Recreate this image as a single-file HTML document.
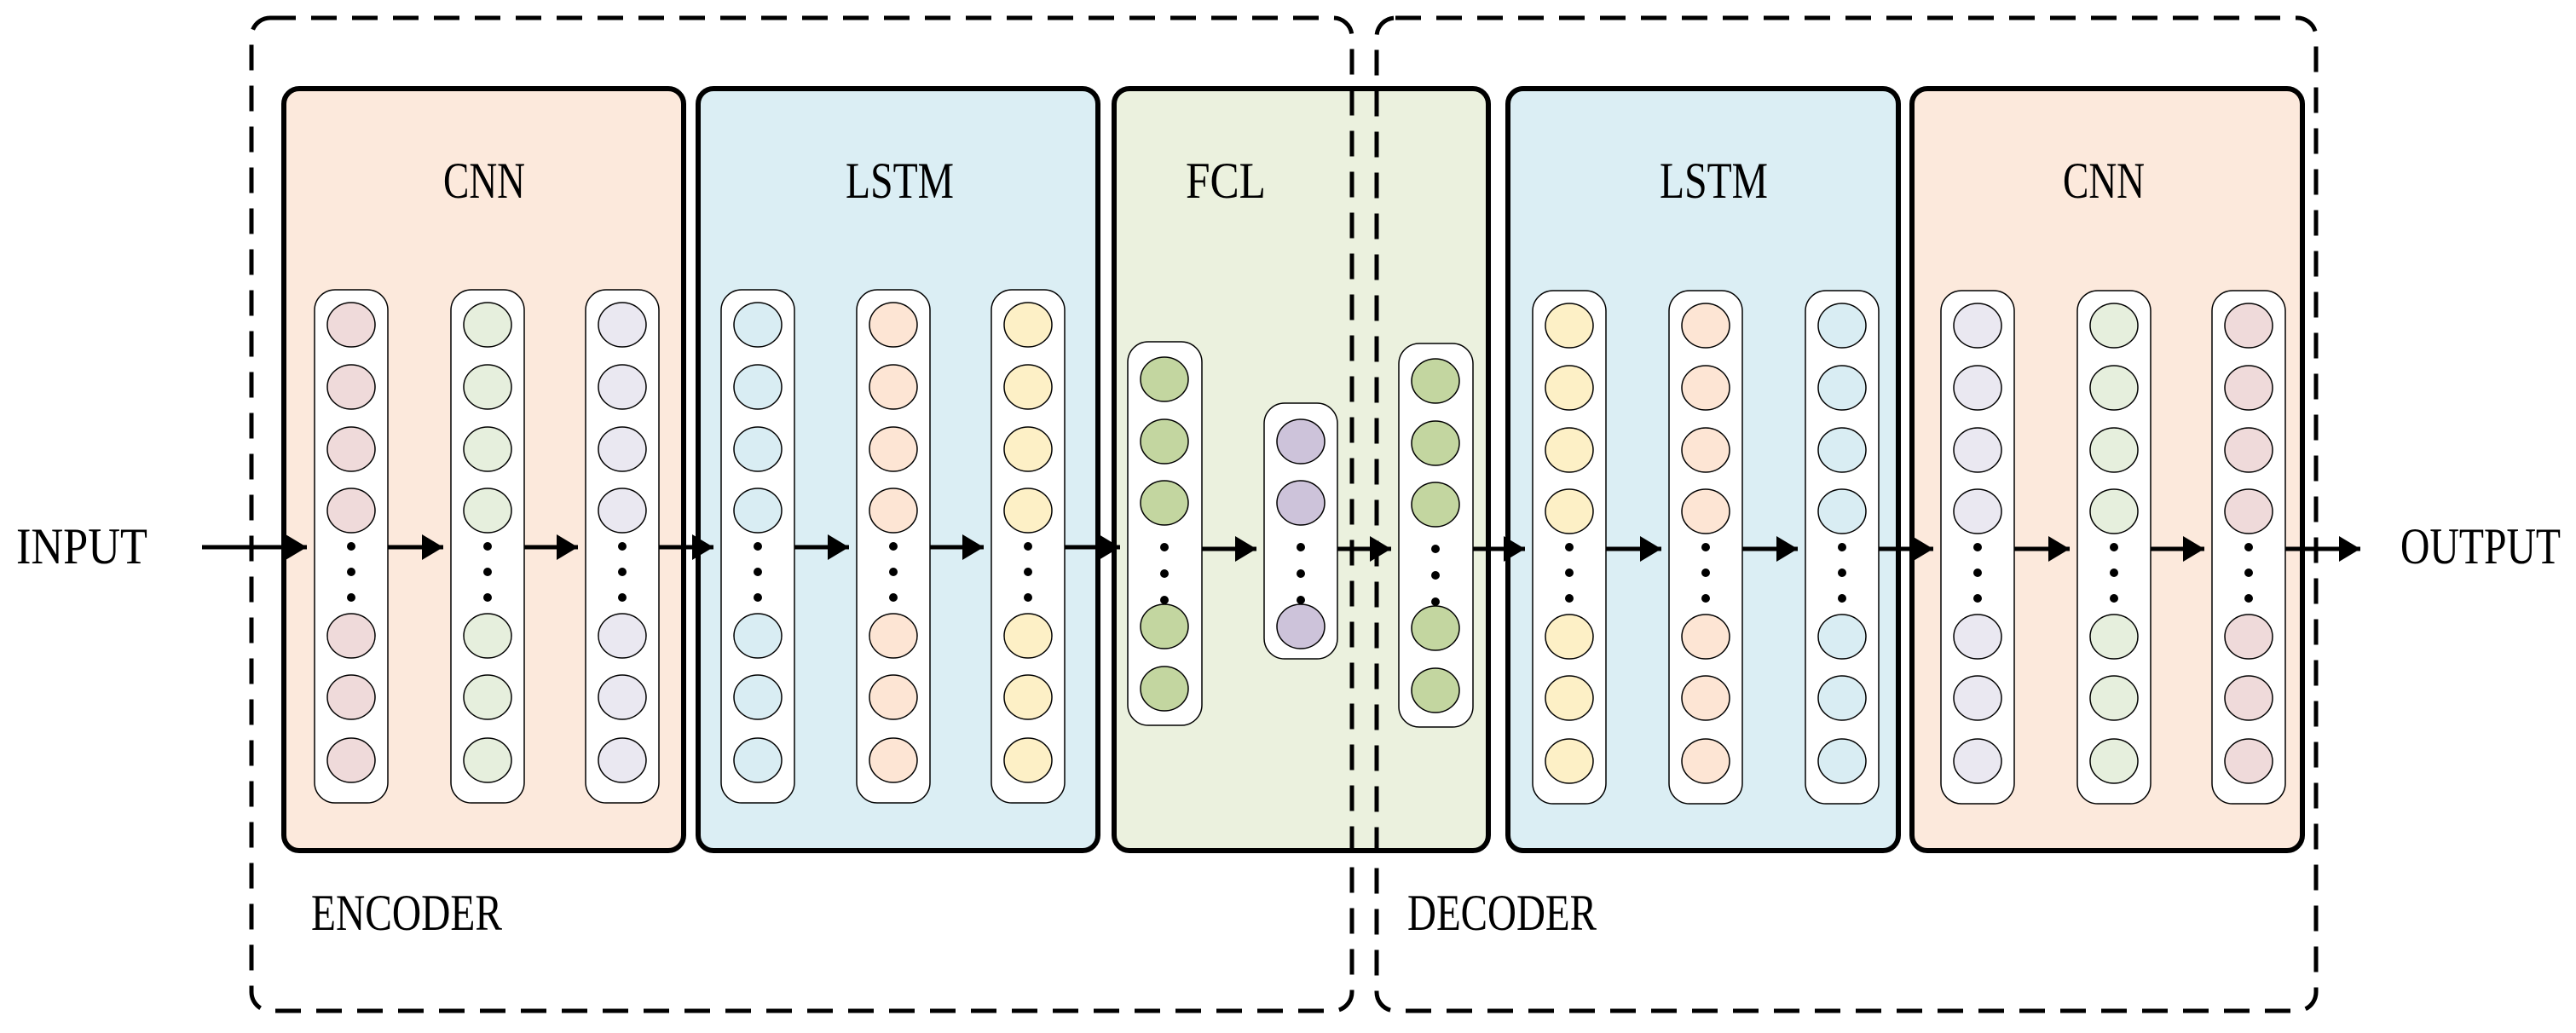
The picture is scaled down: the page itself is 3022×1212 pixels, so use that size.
<!DOCTYPE html>
<html><head><meta charset="utf-8"><style>
html,body{margin:0;padding:0;background:#fff;}
svg{display:block;}
text{font-family:"Liberation Serif","Noto Serif CJK SC",serif;font-size:60px;fill:#000;}
</style></head><body>
<svg width="3022" height="1212" viewBox="0 0 3022 1212" xmlns="http://www.w3.org/2000/svg">
<defs>
<g id="col8">
<rect x="0" y="0" width="86" height="602" rx="24" fill="#fff" stroke="#000" stroke-width="1.5"/>
<g stroke="#000" stroke-width="1.5">
<ellipse cx="43" cy="41" rx="28" ry="26"/><ellipse cx="43" cy="114" rx="28" ry="26"/>
<ellipse cx="43" cy="187" rx="28" ry="26"/><ellipse cx="43" cy="259" rx="28" ry="26"/>
<ellipse cx="43" cy="406" rx="28" ry="26"/><ellipse cx="43" cy="478" rx="28" ry="26"/>
<ellipse cx="43" cy="552" rx="28" ry="26"/></g>
<g fill="#000"><circle cx="43" cy="301" r="5"/><circle cx="43" cy="331" r="5"/><circle cx="43" cy="361" r="5"/></g>
</g>
<g id="colF">
<rect x="0" y="0" width="87" height="450" rx="24" fill="#fff" stroke="#000" stroke-width="1.5"/>
<g stroke="#000" stroke-width="1.5">
<ellipse cx="43" cy="44" rx="28" ry="26"/><ellipse cx="43" cy="117" rx="28" ry="26"/>
<ellipse cx="43" cy="189" rx="28" ry="26"/><ellipse cx="43" cy="334" rx="28" ry="26"/>
<ellipse cx="43" cy="407" rx="28" ry="26"/></g>
<g fill="#000"><circle cx="43" cy="241" r="5"/><circle cx="43" cy="272" r="5"/><circle cx="43" cy="303" r="5"/></g>
</g>
<g id="colP">
<rect x="0" y="0" width="86" height="300" rx="24" fill="#fff" stroke="#000" stroke-width="1.5"/>
<g stroke="#000" stroke-width="1.5">
<ellipse cx="43" cy="45" rx="28" ry="26"/><ellipse cx="43" cy="117" rx="28" ry="26"/>
<ellipse cx="43" cy="262" rx="28" ry="26"/></g>
<g fill="#000"><circle cx="43" cy="169" r="5"/><circle cx="43" cy="200" r="5"/><circle cx="43" cy="231" r="5"/></g>
</g>
<marker id="ah" markerWidth="6" markerHeight="6" refX="5" refY="3" orient="auto" markerUnits="strokeWidth">
<path d="M0,0 L5,3 L0,6 z" fill="#000"/></marker>
</defs>

<!-- boxes -->
<g stroke="#000" stroke-width="6">
<rect x="333" y="104" width="469" height="894" rx="18" fill="#fce9dc"/>
<rect x="819" y="104" width="469" height="894" rx="18" fill="#dbeef4"/>
<rect x="1307" y="104" width="439" height="894" rx="18" fill="#ebf1de"/>
<rect x="1769" y="104" width="458" height="894" rx="18" fill="#dbeef4"/>
<rect x="2243" y="104" width="458" height="894" rx="18" fill="#fce9dc"/>
</g>

<!-- dashed groups -->
<g fill="none" stroke="#000" stroke-width="5" stroke-dasharray="30 18">
<rect x="295" y="21" width="1291" height="1165" rx="22"/>
<rect x="1615" y="21" width="1102" height="1165" rx="22"/>
</g>

<!-- columns -->
<use href="#col8" x="369" y="340" fill="#efdada"/>
<use href="#col8" x="529" y="340" fill="#e6efdd"/>
<use href="#col8" x="687" y="340" fill="#eae8f1"/>
<use href="#col8" x="846" y="340" fill="#d9edf3"/>
<use href="#col8" x="1005" y="340" fill="#fde5d4"/>
<use href="#col8" x="1163" y="340" fill="#fdf0c6"/>
<use href="#colF" x="1323" y="401" fill="#c3d6a0"/>
<use href="#colP" x="1483" y="473" fill="#cdc3da"/>
<use href="#colF" x="1641" y="403" fill="#c3d6a0"/>
<use href="#col8" x="1798" y="341" fill="#fdf0c6"/>
<use href="#col8" x="1958" y="341" fill="#fde5d4"/>
<use href="#col8" x="2118" y="341" fill="#d9edf3"/>
<use href="#col8" x="2277" y="341" fill="#eae8f1"/>
<use href="#col8" x="2437" y="341" fill="#e6efdd"/>
<use href="#col8" x="2595" y="341" fill="#efdada"/>

<!-- arrows -->
<g stroke="#000" stroke-width="5" marker-end="url(#ah)">
<line x1="237" y1="642" x2="360" y2="642"/>
<line x1="455" y1="642" x2="520" y2="642"/>
<line x1="615" y1="642" x2="678" y2="642"/>
<line x1="773" y1="642" x2="837" y2="642"/>
<line x1="932" y1="642" x2="996" y2="642"/>
<line x1="1091" y1="642" x2="1154" y2="642"/>
<line x1="1249" y1="642" x2="1314" y2="642"/>
<line x1="1410" y1="644" x2="1474" y2="644"/>
<line x1="1569" y1="644" x2="1632" y2="644"/>
<line x1="1728" y1="644" x2="1789" y2="644"/>
<line x1="1884" y1="644" x2="1949" y2="644"/>
<line x1="2044" y1="644" x2="2109" y2="644"/>
<line x1="2204" y1="644" x2="2268" y2="644"/>
<line x1="2363" y1="644" x2="2428" y2="644"/>
<line x1="2523" y1="644" x2="2586" y2="644"/>
<line x1="2681" y1="644" x2="2769" y2="644"/>
</g>

<!-- labels -->
<text x="520" y="232" textLength="96" lengthAdjust="spacingAndGlyphs">CNN</text>
<text x="992" y="232" textLength="127" lengthAdjust="spacingAndGlyphs">LSTM</text>
<text x="1391" y="232" textLength="94" lengthAdjust="spacingAndGlyphs">FCL</text>
<text x="1947" y="232" textLength="127" lengthAdjust="spacingAndGlyphs">LSTM</text>
<text x="2420" y="232" textLength="96" lengthAdjust="spacingAndGlyphs">CNN</text>
<text x="19" y="661" textLength="154" lengthAdjust="spacingAndGlyphs">INPUT</text>
<text x="2816" y="661" textLength="188" lengthAdjust="spacingAndGlyphs">OUTPUT</text>
<text x="365" y="1091" textLength="224" lengthAdjust="spacingAndGlyphs">ENCODER</text>
<text x="1651" y="1091" textLength="222" lengthAdjust="spacingAndGlyphs">DECODER</text>
</svg>
</body></html>
